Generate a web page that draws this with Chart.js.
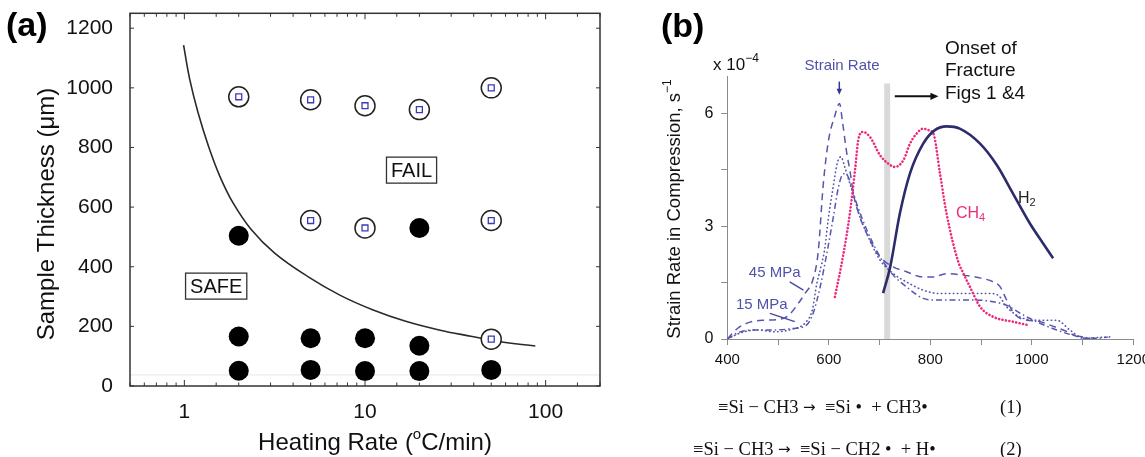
<!DOCTYPE html>
<html><head><meta charset="utf-8">
<script src="https://cdn.jsdelivr.net/npm/chart.js@4.4.0/dist/chart.umd.min.js"></script>
<style>
html,body{margin:0;padding:0;background:#fff;}
#wrap{position:relative;width:1145px;height:457px;overflow:hidden;background:#fff;}
#ca{position:absolute;left:0;top:0;}
#cb{position:absolute;left:620px;top:0;}
</style></head><body>
<div id="wrap">
<canvas id="ca" width="620" height="457"></canvas>
<canvas id="cb" width="525" height="457"></canvas>
</div>
<script>
// ---------- Panel (a) data ----------
const boundaryRate = [0.99,1.07,1.19,1.36,1.57,1.86,2.35,3.16,4.83,7.3,11.1,16.8,25.7,39.2,55,87.7];
const boundaryThk  = [1143,1029,917,804,704,614,524,446,367,304,255,217,188,166,149,134];
const failRate = [2,5,10,20,50,5,10,50,50];
const failThk  = [970,960,940,927,1000,555,530,555,157];
const safeRate = [2,20,2,5,10,20,2,5,10,20,50];
const safeThk  = [504,530,166,160,160,135,51,54,50,50,54];
const baseRate = [0.5,200];
const baseThk  = [37,37];
const aXLabels = [1,10,100];
const aYTicks  = [0,200,400,600,800,1000,1200];

// ---------- Panel (b) data ----------
const s45T = [400,420,445,470,500,520,540,555,568,579,589,599,612,621,627,635,642,649,660,675,700,727,753,786,806,832,865,900,924,937,950,965,990,1010,1040,1062,1095,1128];
const s45V = [0,0.28,0.45,0.5,0.52,0.62,0.95,1.25,1.55,2.3,4.1,5.25,5.95,6.27,5.78,4.98,4.45,3.83,3.3,2.8,2.2,1.92,1.79,1.65,1.65,1.74,1.70,1.62,1.52,1.4,1.05,0.68,0.5,0.48,0.35,0.24,0.04,0];
const s30T = [400,430,460,494,527,555,568,576,586,592,599,609,617,624,631,640,648,660,675,701,727,753,786,819,858,917,935,950,983,1016,1049,1075,1101,1130,1160];
const s30V = [0,0.18,0.24,0.19,0.26,0.45,0.8,1.45,2.0,2.4,3.2,4.08,4.7,4.85,4.6,4.2,3.87,3.3,2.8,2.1,1.74,1.52,1.3,1.21,1.21,1.21,1.15,0.86,0.55,0.5,0.5,0.24,0.02,0.04,0.06];
const s15T = [400,425,458,491,530,556,569,583,596,609,619,629,637,647,655,675,701,727,753,786,806,852,885,924,950,983,1016,1049,1082,1128,1150];
const s15V = [0,0.19,0.24,0.24,0.28,0.37,0.68,1.39,2.27,3.25,4.04,4.4,4.35,3.95,3.6,2.9,2.19,1.7,1.39,1.08,1.04,1.04,1.04,0.99,0.9,0.64,0.42,0.24,0.1,0.02,0.05];
const ch4T = [612,628,642,652,658,667,681,701,717,730,747,760,772,786,796,806,819,832,855,865,878,898,924,963,993];
const ch4V = [1.12,2.2,3.39,4.54,5.29,5.51,5.38,4.89,4.67,4.58,4.76,5.2,5.45,5.6,5.56,5.47,4.41,3.34,2.06,1.75,1.39,0.86,0.59,0.46,0.37];
const h2T = [707,721,740,760,786,809,832,858,898,931,963,996,1022,1042];
const h2V = [1.22,1.92,3.34,4.41,5.2,5.56,5.66,5.6,5.2,4.63,3.87,3.08,2.55,2.15];
const onsetT = [715,715];
const onsetV = [0,6.8];
const lead45T = [523,550];
const lead45V = [1.52,1.30];
const lead15T = [484,533];
const lead15V = [0.68,0.46];
const bXLabels = [400,600,800,1000,1200];
const bYLabels = [0,3,6];

const SANS = "'Liberation Sans', Arial, Helvetica, sans-serif";
const SERIF = "'Liberation Serif', 'Times New Roman', serif";
const SYM = "'DejaVu Sans', sans-serif";
const zip = (xs, ys) => xs.map((v,i)=>({x:v, y:ys[i]}));

function richWidth(ctx, parts){ let w=0; for(const p of parts){ ctx.font=p.f; w+=ctx.measureText(p.t).width; } return w; }
function drawRich(ctx, parts, x, y, align, color){
  const w = richWidth(ctx, parts);
  let cx = align==='center' ? x - w/2 : (align==='right' ? x - w : x);
  ctx.textAlign='left'; ctx.textBaseline='middle';
  for (const p of parts){ ctx.font=p.f; ctx.fillStyle=p.c||color; ctx.fillText(p.t, cx, y+(p.dy||0)); cx += ctx.measureText(p.t).width; }
}
function seg(ctx,x1,y1,x2,y2){ ctx.beginPath(); ctx.moveTo(x1,y1); ctx.lineTo(x2,y2); ctx.stroke(); }
function arrow(ctx,x1,y1,x2,y2,color,w,head){
  ctx.save(); ctx.strokeStyle=color; ctx.fillStyle=color; ctx.lineWidth=w;
  const a=Math.atan2(y2-y1,x2-x1);
  seg(ctx,x1,y1,x2-Math.cos(a)*head*0.8,y2-Math.sin(a)*head*0.8);
  ctx.beginPath(); ctx.moveTo(x2,y2);
  ctx.lineTo(x2-head*Math.cos(a)+head*0.45*Math.sin(a), y2-head*Math.sin(a)-head*0.45*Math.cos(a));
  ctx.lineTo(x2-head*Math.cos(a)-head*0.45*Math.sin(a), y2-head*Math.sin(a)+head*0.45*Math.cos(a));
  ctx.closePath(); ctx.fill(); ctx.restore();
}
const isDecade = v => Math.abs(Math.log10(v) - Math.round(Math.log10(v))) < 1e-6;

// ---------- Panel (a) ----------
const aDecor = {
  id:'aDecor',
  afterDraw(chart){
    const {ctx, chartArea:ca, scales:{x,y}} = chart;
    ctx.save();
    ctx.strokeStyle='#333'; ctx.lineWidth=1.5;
    ctx.strokeRect(ca.left, ca.top, ca.right-ca.left, ca.bottom-ca.top);
    ctx.lineWidth=1;
    x.ticks.forEach(t=>{
      const px=x.getPixelForValue(t.value);
      const L = isDecade(t.value) ? 6 : 3.5;
      seg(ctx,px,ca.bottom,px,ca.bottom-L); seg(ctx,px,ca.top,px,ca.top+L);
    });
    y.ticks.forEach(t=>{
      const py=y.getPixelForValue(t.value);
      seg(ctx,ca.left,py,ca.left+4,py); seg(ctx,ca.right,py,ca.right-4,py);
    });
    const box = (txt, xv, yv) => {
      const px=x.getPixelForValue(xv), py=y.getPixelForValue(yv);
      ctx.font='20px '+SANS; const w=ctx.measureText(txt).width+9, h=26;
      ctx.lineWidth=1.3; ctx.strokeStyle='#333';
      ctx.strokeRect(px-w/2, py-h/2, w, h);
      ctx.fillStyle='#111'; ctx.textAlign='center'; ctx.textBaseline='middle';
      ctx.fillText(txt, px, py+1);
    };
    box('SAFE', 1.5, 335);
    box('FAIL', 18.1, 724);
    ctx.save(); ctx.translate(47, 214); ctx.rotate(-Math.PI/2);
    drawRich(ctx,[{t:'Sample Thickness (μm)', f:'24px '+SANS}],0,0,'center','#111');
    ctx.restore();
    drawRich(ctx,[{t:'Heating Rate (', f:'24px '+SANS},{t:'o', f:'15px '+SANS, dy:-8},{t:'C/min)', f:'24px '+SANS}],375,443,'center','#111');
    drawRich(ctx,[{t:'(a)', f:'bold 34px '+SANS}],6,27,'left','#000');
    ctx.restore();
  }
};

new Chart(document.getElementById('ca'), {
  type:'scatter',
  data:{ datasets:[
    {label:'baseline', data:zip(baseRate, baseThk), showLine:true, borderColor:'#e6e6e6', borderWidth:1, pointRadius:0, order:5},
    {label:'boundary', data:zip(boundaryRate, boundaryThk), showLine:true, borderColor:'#2a2a2a', borderWidth:1.6, pointRadius:0, tension:0.4, order:4},
    {label:'safe', data:zip(safeRate, safeThk), pointStyle:'circle', pointRadius:10, pointBackgroundColor:'#000', pointBorderColor:'#000', pointBorderWidth:0, order:2},
    {label:'fail', data:zip(failRate, failThk), pointStyle:'circle', pointRadius:10, pointBackgroundColor:'#fff', pointBorderColor:'#222', pointBorderWidth:1.5, order:1},
    {label:'fail core', data:zip(failRate, failThk), pointStyle:'rect', pointRadius:4.2, pointBackgroundColor:'#fff', pointBorderColor:'#3b3bb5', pointBorderWidth:1.3, order:0}
  ]},
  options:{
    responsive:false, animation:false, events:[],
    layout:{padding:{left:0, top:13.3, right:20, bottom:0}},
    plugins:{legend:{display:false}, tooltip:{enabled:false}},
    scales:{
      x:{ type:'logarithmic', min:0.5, max:200,
          grid:{display:false}, border:{display:false},
          ticks:{ autoSkip:false, maxRotation:0, padding:6, color:'#111', font:{family:SANS, size:21},
                  callback:v => aXLabels.some(l=>Math.abs(l-v)<1e-6) ? String(Math.round(v)) : '' },
          afterFit:s=>{ s.height=71; s.paddingLeft=0; s.paddingRight=0; } },
      y:{ type:'linear', min:0, max:1250,
          grid:{display:false}, border:{display:false},
          ticks:{ stepSize:200, includeBounds:false, padding:9, color:'#111', font:{family:SANS, size:21},
                  callback:v => aYTicks.includes(v) ? String(v) : '' },
          afterFit:s=>{ s.width=130; s.paddingTop=0; s.paddingBottom=0; } }
    }
  },
  plugins:[aDecor]
});

// ---------- Panel (b) ----------
const bDecor = {
  id:'bDecor',
  afterDraw(chart){
    const {ctx, chartArea:ca, scales:{x,y}} = chart;
    const X = v => x.getPixelForValue(v), Y = v => y.getPixelForValue(v);
    ctx.save();
    const blue='#5151a8';
    drawRich(ctx,[{t:'(b)', f:'bold 34px '+SANS}],41,28,'left','#000');
    drawRich(ctx,[{t:'x 10', f:'17px '+SANS},{t:'−4', f:'12px '+SANS, dy:-6}],93,65,'left','#111');
    ctx.save(); ctx.translate(55, 209); ctx.rotate(-Math.PI/2);
    drawRich(ctx,[{t:'Strain Rate in Compression, s', f:'18.5px '+SANS},{t:'−1', f:'12px '+SANS, dy:-7}],0,0,'center','#111');
    ctx.restore();
    drawRich(ctx,[{t:'Strain Rate', f:'15px '+SANS}],X(626),Y(7.26),'center',blue);
    arrow(ctx,X(620.7),Y(6.85),X(620.7),Y(6.5),'#35358f',1.5,6);
    ['Onset of','Fracture','Figs 1 &4'].forEach((t,i)=>{
      drawRich(ctx,[{t, f:'19px '+SANS}],X(828.8),Y([7.73,7.14,6.53][i]),'left','#111');
    });
    arrow(ctx,X(730),Y(6.46),X(816),Y(6.46),'#111',2,8);
    drawRich(ctx,[{t:'H', f:'16px '+SANS},{t:'2', f:'11px '+SANS, dy:5}],X(972.8),Y(3.75),'left','#222');
    drawRich(ctx,[{t:'CH', f:'16px '+SANS},{t:'4', f:'11px '+SANS, dy:5}],X(850.4),Y(3.35),'left','#ee2a7b');
    drawRich(ctx,[{t:'45 MPa', f:'15px '+SANS}],X(442.4),Y(1.755),'left',blue);
    drawRich(ctx,[{t:'15 MPa', f:'15px '+SANS}],X(417),Y(0.904),'left',blue);
    const F = '18.5px '+SERIF, A = '15px '+SYM;
    drawRich(ctx,[{t:'≡Si − CH3 ', f:F},{t:'→', f:A},{t:'  ≡Si •  + CH3•', f:F}],98,408,'left','#111');
    drawRich(ctx,[{t:'(1)', f:F}],380,408,'left','#111');
    drawRich(ctx,[{t:'≡Si − CH3 ', f:F},{t:'→', f:A},{t:'  ≡Si − CH2 •  + H•', f:F}],73,450,'left','#111');
    drawRich(ctx,[{t:'(2)', f:F}],380,450,'left','#111');
    ctx.restore();
  }
};

const sr = '#5656ae';
new Chart(document.getElementById('cb'), {
  type:'scatter',
  data:{ datasets:[
    {label:'Onset of fracture', data:zip(onsetT, onsetV), showLine:true, borderColor:'#d9d9d9', borderWidth:6, borderCapStyle:'butt', pointRadius:0, order:10},
    {label:'Strain rate 45 MPa', data:zip(s45T, s45V), showLine:true, borderColor:sr, borderWidth:1.5, borderDash:[7,5], pointRadius:0, cubicInterpolationMode:'monotone', order:3},
    {label:'Strain rate 30 MPa', data:zip(s30T, s30V), showLine:true, borderColor:sr, borderWidth:1.6, borderDash:[0.5,3.5], borderCapStyle:'round', pointRadius:0, cubicInterpolationMode:'monotone', order:3},
    {label:'Strain rate 15 MPa', data:zip(s15T, s15V), showLine:true, borderColor:sr, borderWidth:1.5, borderDash:[6,3,1.5,3], pointRadius:0, cubicInterpolationMode:'monotone', order:3},
    {label:'45 MPa leader', data:zip(lead45T, lead45V), showLine:true, borderColor:'#46469c', borderWidth:1.3, pointRadius:0, order:3},
    {label:'15 MPa leader', data:zip(lead15T, lead15V), showLine:true, borderColor:'#46469c', borderWidth:1.3, pointRadius:0, order:3},
    {label:'CH4', data:zip(ch4T, ch4V), showLine:true, borderColor:'#ee2a7b', borderWidth:2.6, borderDash:[0.1,3.4], borderCapStyle:'round', pointRadius:0, cubicInterpolationMode:'monotone', order:2},
    {label:'H2', data:zip(h2T, h2V), showLine:true, borderColor:'#2c2c6c', borderWidth:2.6, pointRadius:0, cubicInterpolationMode:'monotone', order:1}
  ]},
  options:{
    responsive:false, animation:false, events:[],
    layout:{padding:{left:0, top:76, right:11.7, bottom:0}},
    plugins:{legend:{display:false}, tooltip:{enabled:false}},
    scales:{
      x:{ type:'linear', min:400, max:1200,
          grid:{display:true, drawOnChartArea:false, drawTicks:true, tickLength:6, color:'#8a8a8a'},
          border:{display:true, color:'#8a8a8a', width:1},
          ticks:{ stepSize:100, includeBounds:false, autoSkip:false, maxRotation:0, padding:6, color:'#111', font:{family:SANS, size:15},
                  callback:v => bXLabels.includes(v) ? String(v) : '' },
          afterFit:s=>{ s.height=118; s.paddingLeft=0; s.paddingRight=0; } },
      y:{ type:'linear', min:0, max:7,
          grid:{display:true, drawOnChartArea:false, drawTicks:true, tickLength:6, color:'#8a8a8a'},
          border:{display:true, color:'#8a8a8a', width:1},
          ticks:{ stepSize:1.5, includeBounds:false, padding:8, color:'#111', font:{family:SANS, size:16},
                  callback:v => bYLabels.includes(v) ? String(v) : '' },
          afterFit:s=>{ s.width=107.3; s.paddingTop=0; s.paddingBottom=0; } }
    }
  },
  plugins:[bDecor]
});
</script>
</body></html>
